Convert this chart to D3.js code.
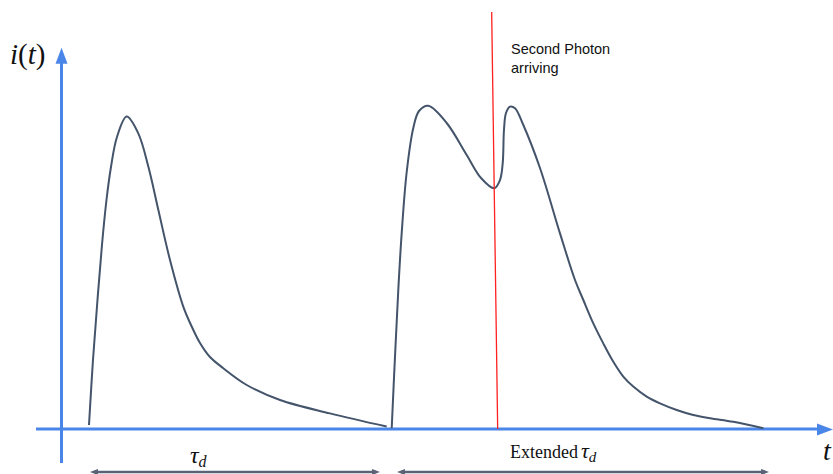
<!DOCTYPE html>
<html>
<head>
<meta charset="utf-8">
<script src="https://cdn.jsdelivr.net/npm/d3@7"></script>
<style>
  html, body { margin: 0; padding: 0; background: #fff; }
  svg { display: block; }
</style>
</head>
<body>
<svg id="chart" width="833" height="474"></svg>
<script>
// ---- data (time units, current units) ----
const pulse1T = [0.36, 0.413, 0.473, 0.533, 0.593, 0.653, 0.733, 0.863, 1.017, 1.151, 1.284, 1.44, 1.617, 1.72, 1.84, 1.973, 2.147, 2.463, 2.907, 3.573, 4.329];
const pulse1I = [0.01, 0.1725, 0.3225, 0.46, 0.5725, 0.655, 0.73, 0.781, 0.739, 0.656, 0.548, 0.4225, 0.306, 0.26, 0.215, 0.18, 0.1525, 0.11, 0.0725, 0.039, 0.006];
const pulse2T = [4.396, 4.44, 4.484, 4.529, 4.596, 4.684, 4.76, 4.884, 5.129, 5.396, 5.587, 5.764, 5.84, 5.876, 5.893, 5.92, 5.973, 6.04, 6.151, 6.373, 6.64, 6.84, 6.951, 7.084, 7.217, 7.351, 7.484, 7.617, 7.796, 7.973, 8.196, 8.417, 8.64, 8.951, 9.351];
const pulse2I = [0.002, 0.181, 0.348, 0.489, 0.6425, 0.7525, 0.795, 0.808, 0.765, 0.685, 0.6275, 0.602, 0.6225, 0.664, 0.7475, 0.79, 0.806, 0.802, 0.76, 0.6525, 0.489, 0.3725, 0.3225, 0.264, 0.214, 0.168, 0.131, 0.106, 0.081, 0.064, 0.0475, 0.035, 0.027, 0.018, 0.002];
const photonT = [5.729, 5.809];   // red marker: top, bottom
const photonI = [1.0425, 0];
const spanLabels = ["τ", "Extended"];
const spanStart = [0.373, 4.467];
const spanEnd = [4.24, 9.427];
const axisXRange = [-0.347, 10.253];
const axisYRange = [-0.085, 0.953];

// ---- scales ----
const x = d3.scaleLinear().domain([0, 10]).range([62, 812]);
const y = d3.scaleLinear().domain([0, 1]).range([429, 29]);

const svg = d3.select("#chart");
const blue = "#4a86e8";
const curveCol = "#44546a";

// axes
svg.append("line")
  .attr("x1", x(axisXRange[0])).attr("x2", x(axisXRange[1]) - 12)
  .attr("y1", y(0)).attr("y2", y(0))
  .attr("stroke", blue).attr("stroke-width", 3);
svg.append("path")
  .attr("d", `M${x(axisXRange[1]) + 2},${y(0) + 0.5} L${x(axisXRange[1]) - 14},${y(0) - 5.5} L${x(axisXRange[1]) - 14},${y(0) + 6.5} Z`)
  .attr("fill", blue);
svg.append("line")
  .attr("x1", x(0) - 0.5).attr("x2", x(0) - 0.5)
  .attr("y1", y(axisYRange[0])).attr("y2", y(axisYRange[1]) + 12)
  .attr("stroke", blue).attr("stroke-width", 3);
svg.append("path")
  .attr("d", `M${x(0) - 0.5},${y(axisYRange[1])} L${x(0) - 6.5},${y(axisYRange[1]) + 16} L${x(0) + 5.5},${y(axisYRange[1]) + 16} Z`)
  .attr("fill", blue);

// pulses
const line = d3.line()
  .x(d => x(d[0])).y(d => y(d[1]))
  .curve(d3.curveCatmullRom.alpha(0.5));
[[pulse1T, pulse1I], [pulse2T, pulse2I]].forEach(([ts, is]) => {
  svg.append("path")
    .datum(ts.map((t, k) => [t, is[k]]))
    .attr("d", line)
    .attr("fill", "none")
    .attr("stroke", curveCol)
    .attr("stroke-width", 2);
});

// red photon marker
svg.append("line")
  .attr("x1", x(photonT[0])).attr("y1", y(photonI[0]))
  .attr("x2", x(photonT[1])).attr("y2", y(photonI[1]))
  .attr("stroke", "#ff2020").attr("stroke-width", 1.3);

svg.append("text")
  .attr("x", 511).attr("y", 54)
  .attr("font-family", "Liberation Sans, Arial, sans-serif")
  .attr("font-size", 14.5).attr("fill", "#111")
  .text("Second Photon");
svg.append("text")
  .attr("x", 511).attr("y", 73)
  .attr("font-family", "Liberation Sans, Arial, sans-serif")
  .attr("font-size", 14.5).attr("fill", "#111")
  .text("arriving");

// span arrows
const spanCol = "#5a6375";
spanStart.forEach((s, k) => {
  const x1 = x(s), x2 = x(spanEnd[k]), yy = 472;
  svg.append("line").attr("x1", x1 + 4).attr("x2", x2 - 4)
    .attr("y1", yy).attr("y2", yy)
    .attr("stroke", spanCol).attr("stroke-width", 2.5);
  svg.append("path").attr("d", `M${x1},${yy} L${x1 + 8},${yy - 3} L${x1 + 8},${yy + 3} Z`).attr("fill", spanCol);
  svg.append("path").attr("d", `M${x2},${yy} L${x2 - 8},${yy - 3} L${x2 - 8},${yy + 3} Z`).attr("fill", spanCol);
});

// span labels
const serif = "Liberation Serif, Times New Roman, serif";
const l1 = svg.append("text").attr("x", 190).attr("y", 463)
  .attr("font-family", serif).attr("font-size", 24).attr("fill", "#111");
l1.append("tspan").attr("font-style", "italic").text(spanLabels[0]);
l1.append("tspan").attr("font-style", "italic").attr("font-size", 16).attr("dy", 4).text("d");

const l2 = svg.append("text").attr("x", 510).attr("y", 458)
  .attr("font-family", serif).attr("font-size", 18).attr("fill", "#111");
l2.append("tspan").text(spanLabels[1]);
l2.append("tspan").attr("font-style", "italic").attr("font-size", 22).attr("dx", 3).text("τ");
l2.append("tspan").attr("font-style", "italic").attr("font-size", 15).attr("dy", 4).text("d");

// axis titles
svg.append("text").attr("x", 823).attr("y", 460)
  .attr("font-family", serif).attr("font-style", "italic").attr("font-size", 28).attr("fill", "#111")
  .text("t");
const it = svg.append("text").attr("x", 10).attr("y", 64)
  .attr("font-family", serif).attr("font-size", 29).attr("fill", "#111");
it.append("tspan").attr("font-style", "italic").text("i");
it.append("tspan").text("(");
it.append("tspan").attr("font-style", "italic").text("t");
it.append("tspan").text(")");
</script>
</body>
</html>
